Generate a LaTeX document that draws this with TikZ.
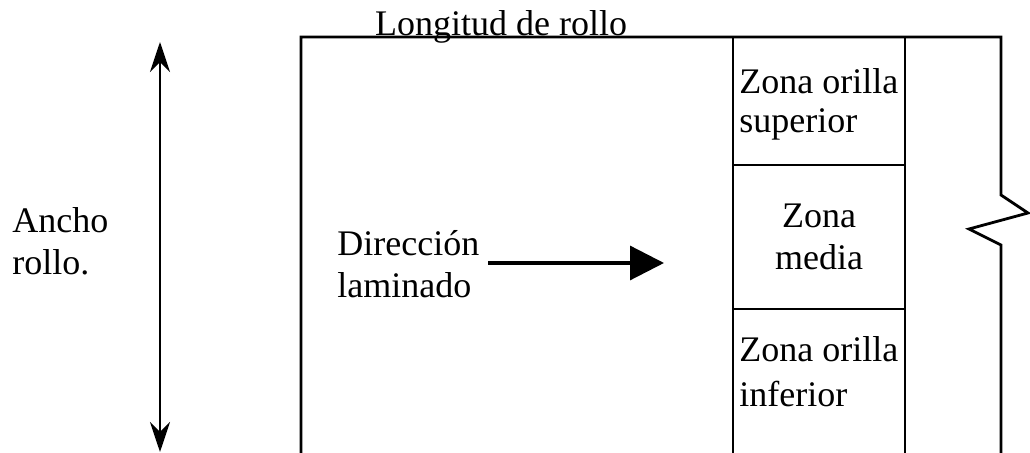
\documentclass[tikz,border=0pt]{standalone}
\usepackage{fontspec}
\setmainfont{Liberation Serif}
\usetikzlibrary{arrows.meta,calc}

\begin{document}
\begin{tikzpicture}[x=0.5pt,y=-0.5pt,
    frame/.style={line width=1.4pt},
    lbl/.style={inner sep=0pt,font=\fontsize{18}{21.3}\selectfont},
    cell/.style={inner sep=0pt,font=\fontsize{18}{19.5}\selectfont}]
                    \useasboundingbox (0,0) rectangle (1030,453);
                    % roll outline
                    \coordinate (tl) at (301,37);
                    \coordinate (bl) at (301,453);
                    \coordinate (tr) at (1001,37);
                    \coordinate (br) at (1001,453);
                    \coordinate (z1) at (1001,195);
                    \coordinate (z2) at (1028,213);
                    \coordinate (z3) at (969,229);
                    \coordinate (z4) at (1001,245);
                    \coordinate (c1t) at (733,37);
                    \coordinate (c1b) at (733,453);
                    \coordinate (c2t) at (905,37);
                    \coordinate (c2b) at (905,453);
                    \coordinate (d1l) at (733,165);
                    \coordinate (d1r) at (905,165);
                    \coordinate (d2l) at (733,309);
                    \coordinate (d2r) at (905,309);
                    \draw[frame] (bl)--(tl)--(tr)--(z1)--(z2)--(z3)--(z4)--(br);
                    \foreach \a/\b in {c1t/c1b,c2t/c2b,d1l/d1r,d2l/d2r}{
                    \draw[frame] (\a)--(\b);
                    }
                    % width arrow
                    \coordinate (wtop) at (160,42);
                    \coordinate (wbot) at (160,452);
                    \draw[line width=1.3pt,{Stealth[length=15pt,width=10pt]}-{Stealth[length=15pt,width=10pt]}] (wtop)--(wbot);
                    % labels (base = last line)
                    \node[lbl,anchor=base] (longitud) at (501,36) {Longitud de rollo};
                    \node[lbl,anchor=base west,align=left] (ancho) at (12,275) {Ancho\\rollo.};
                    \node[lbl,anchor=base west,align=left] (direccion) at (337,298) {Dirección\\laminado};
                    \coordinate (ltail) at (488,263);
                    \coordinate (lhead) at (664,263);
                    \draw[line width=1.6pt,-{Triangle[length=17pt,width=17pt]}] (ltail)--(lhead);
                    \node[cell,anchor=base west,align=left] (sup) at (739,133) {Zona orilla\\superior};
                    \node[lbl,anchor=base,align=center] (media) at (819,270) {Zona\\media};
                    \node[cell,anchor=base west,align=left,font=\fontsize{18}{22.5}\selectfont] (inf) at (739,407) {Zona orilla\\inferior};
\end{tikzpicture}
\end{document}
